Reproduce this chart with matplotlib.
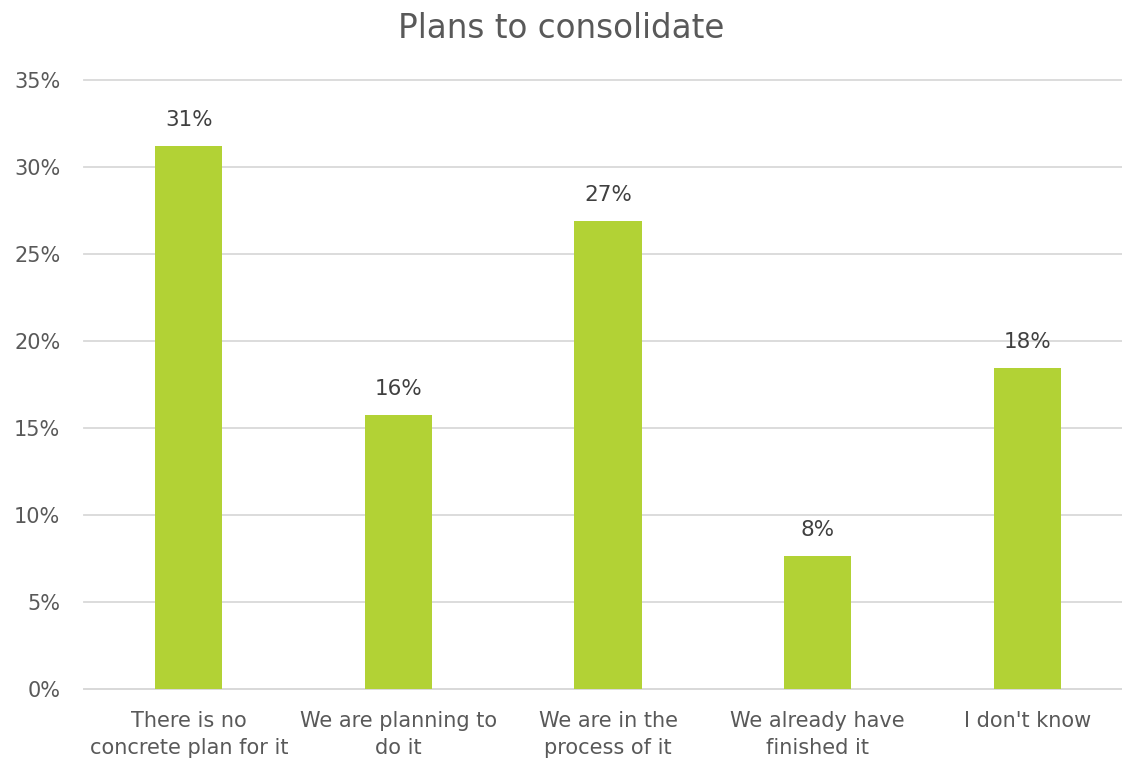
import matplotlib.pyplot as plt
from matplotlib.ticker import FuncFormatter

categories = ['There is no\nconcrete plan for it', 'We are planning to\ndo it',
              'We are in the\nprocess of it', 'We already have\nfinished it', "I don't know"]
shares = [31.2, 15.75, 26.9, 7.65, 18.45]
yticks = [0, 5, 10, 15, 20, 25, 30, 35]

green = '#B2D235'
text_grey = '#595959'

plt.rcParams['font.family'] = ['DejaVu Sans']

fig = plt.figure(figsize=(11.22, 7.63), dpi=100)
# the last category slot runs a little past the right edge of the figure
ax = fig.add_axes([0.0749, 0.097, 0.934, 0.798])

x = range(len(categories))
bars = ax.bar(x, shares, width=0.32, color=green, zorder=3)

for b, v in zip(bars, shares):
    ax.text(b.get_x() + b.get_width() / 2, v + 1.5, '%d%%' % round(v),
            ha='center', va='center', fontsize=15.5, color='#404040')

ax.set_xlim(-0.5, len(categories) - 0.5)
ax.set_ylim(0, 35)
ax.set_yticks(yticks)
ax.yaxis.set_major_formatter(FuncFormatter(lambda v, p: '%d%%' % v))
ax.set_xticks(list(x))
ax.set_xticklabels(categories, linespacing=1.45)

ax.grid(axis='y', color='#D9D9D9', linewidth=1.3, zorder=0)
for gl in ax.get_ygridlines():
    gl.set_clip_on(False)
for s in ['top', 'right', 'left']:
    ax.spines[s].set_visible(False)
ax.spines['bottom'].set_color('#D9D9D9')
ax.spines['bottom'].set_linewidth(1.3)
ax.tick_params(axis='both', length=0, labelsize=15, labelcolor=text_grey)
ax.tick_params(axis='x', pad=16)
ax.tick_params(axis='y', pad=17)

fig.text(0.5, 0.963, 'Plans to consolidate', ha='center', va='center',
         fontsize=23.5, color=text_grey)

fig.savefig('out.png', dpi=100)
plt.close(fig)
